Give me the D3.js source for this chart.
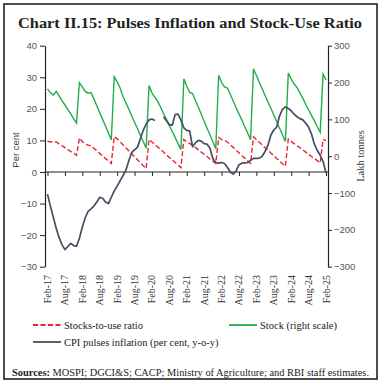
<!DOCTYPE html>
<html>
<head>
<meta charset="utf-8">
<script src="https://cdn.jsdelivr.net/npm/d3@7"></script>
<style>
    body { margin: 0; background: #fff; }
    svg { display: block; }
</style>
</head>
<body>
<script>
"use strict";
// month labels Feb-17 .. Feb-25
const months = d3.timeMonth.range(new Date(2017, 1, 1), new Date(2025, 2, 1)).map(d3.timeFormat("%b-%y"));
const tickLabels = ["Feb-17", "Aug-17", "Feb-18", "Aug-18", "Feb-19", "Aug-19", "Feb-20", "Aug-20",
    "Feb-21", "Aug-21", "Feb-22", "Aug-22", "Feb-23", "Aug-23", "Feb-24", "Aug-24", "Feb-25"];
const leftTicks = [-30, -20, -10, 0, 10, 20, 30, 40];
const rightTicks = [-300, -200, -100, 0, 100, 200, 300];

// CPI pulses inflation, per cent y-o-y (Apr/May-20 not available)
const cpiInflation = [
    -7.0, -10.8, -14.3, -17.8, -20.8, -23.0, -24.6, -23.6, -22.6, -23.3,
    -23.5, -21.0, -17.5, -14.5, -12.5, -11.7, -10.8, -9.5, -8.0, -8.3,
    -9.5, -10.0, -8.0, -6.0, -4.5, -2.8, -1.2, 0.5, 3.5, 6.1,
    7.0, 7.8, 10.5, 13.2, 15.2, 16.5, 16.8, 16.3, null, null,
    17.5, 16.2, 15.0, 14.8, 18.2, 18.3, 16.5, 14.0, 13.2, 13.0,
    8.0, 9.2, 10.0, 9.8, 9.0, 8.8, 7.5, 4.3, 3.0, 2.8,
    3.0, 2.7, 1.5, 0.0, -0.7, 0.3, 2.3, 2.8, 2.9, 3.0,
    3.7, 4.3, 4.3, 4.4, 5.0, 6.5, 8.5, 11.7, 13.3, 14.2,
    17.8, 19.8, 20.6, 20.1, 19.4, 18.3, 17.5, 16.9, 16.5, 15.5,
    14.2, 12.0, 8.8, 6.8, 5.3, 3.3, -0.3];
// stock, lakh tonnes (right scale)
const stock = [
    183, 172, 166, 176, 164, 151, 139, 127, 115, 102,
    90, 200, 188, 176, 171, 173, 155, 137, 118, 100,
    82, 63, 45, 216, 202, 186, 163, 145, 128, 110,
    92, 75, 57, 40, 22, 192, 172, 160, 149, 133,
    116, 100, 83, 67, 51, 34, 18, 210, 190, 173,
    170, 151, 133, 114, 95, 76, 58, 39, 20, 220,
    200, 188, 185, 168, 150, 132, 115, 98, 80, 63,
    45, 237, 219, 201, 183, 165, 147, 130, 112, 94,
    76, 58, 40, 226, 210, 196, 187, 172, 157, 141,
    126, 111, 96, 80, 65, 223, 207];
// stocks-to-use ratio, per cent
const stockUseRatio = [
    9.8, 9.5, 9.6, 9.5, 8.9, 8.3, 7.7, 7.1, 6.5, 5.9,
    5.3, 10.8, 9.6, 9.0, 8.5, 8.3, 7.5, 6.7, 5.9, 5.1,
    4.3, 3.5, 2.7, 11.2, 10.5, 9.6, 8.6, 7.7, 6.7, 5.8,
    4.9, 3.9, 3.0, 2.0, 1.1, 10.3, 9.5, 8.7, 7.9, 7.1,
    6.3, 5.4, 4.6, 3.8, 3.0, 2.2, 1.4, 10.3, 9.5, 9.0,
    8.5, 7.8, 7.0, 6.3, 5.6, 4.9, 4.1, 3.4, 2.7, 10.9,
    10.3, 10.0, 9.5, 8.6, 7.8, 6.9, 6.1, 5.2, 4.4, 3.5,
    2.7, 11.1, 10.3, 9.4, 8.6, 7.7, 6.9, 6.0, 5.2, 4.3,
    3.5, 2.6, 1.8, 10.4, 9.7, 9.0, 8.3, 7.7, 7.0, 6.3,
    5.6, 4.9, 4.3, 3.6, 2.9, 10.3, 9.9];

(function(){
    const measurements = {
        width: 382,
        height: 384,
        left: 45,
        right: 328,
        top: 45.7,
        bottom: 266.7
    }
    const serif = "'Liberation Serif', 'DejaVu Serif', serif"
    const sans = "'Liberation Sans', Arial, sans-serif"

    const svg = d3.select("body").append("svg")
        .attr("width", measurements.width)
        .attr("height", measurements.height)

    // outer frame
    svg.append("rect")
        .attr("x", 4).attr("y", 4)
        .attr("width", 373).attr("height", 375)
        .attr("fill", "none")
        .attr("stroke", "#222")
        .attr("stroke-width", 1.6)

    svg.append("text")
        .attr("x", 190).attr("y", 28)
        .attr("text-anchor", "middle")
        .attr("font-family", serif)
        .attr("font-weight", "bold")
        .attr("font-size", "14.5px")
        .attr("fill", "#222")
        .attr("textLength", 344)
        .attr("lengthAdjust", "spacingAndGlyphs")
        .text("Chart II.15: Pulses Inflation and Stock-Use Ratio")

    const x = d3.scalePoint().domain(months).range([47.5, 326])
    const yLeft = d3.scaleLinear().domain([-30, 40]).range([measurements.bottom, measurements.top])
    const yRight = d3.scaleLinear().domain([-300, 300]).range([measurements.bottom, measurements.top])

    drawAxes(x, yLeft, yRight)
    drawLines(x, yLeft, yRight)
    drawLegend()

    function drawAxes(x, yLeft, yRight) {
        const leftAxis = d3.axisLeft(yLeft).tickValues(leftTicks).tickSize(5).tickSizeOuter(0).tickPadding(3)
        const gl = svg.append("g")
            .attr("transform", `translate(${measurements.left},0)`)
            .call(leftAxis)
        styleAxis(gl)

        const rightAxis = d3.axisRight(yRight).tickValues(rightTicks).tickSize(4).tickSizeOuter(0).tickPadding(3)
        const gr = svg.append("g")
            .attr("transform", `translate(${measurements.right},0)`)
            .call(rightAxis)
        styleAxis(gr)
        gr.selectAll("text").attr("x", 6)

        // zero line with month ticks
        const y0 = yLeft(0)
        svg.append("line")
            .attr("x1", measurements.left).attr("x2", measurements.right)
            .attr("y1", y0).attr("y2", y0)
            .attr("stroke", "#222").attr("stroke-width", 1.2)
        const bottomAxis = d3.axisBottom(x).tickValues(tickLabels).tickSize(4).tickFormat("")
        const gb = svg.append("g")
            .attr("transform", `translate(0,${y0})`)
            .call(bottomAxis)
        gb.select(".domain").remove()
        gb.selectAll("line").attr("stroke", "#222")

        svg.append("g").selectAll("text")
            .data(tickLabels)
            .enter()
            .append("text")
                .attr("transform", d => `translate(${x(d)},275) rotate(-90)`)
                .attr("text-anchor", "end")
                .attr("dy", "0.35em")
                .attr("font-family", serif)
                .attr("font-size", "10px")
                .attr("fill", "#333")
                .text(d => d)

        svg.append("text")
            .attr("transform", "translate(19,150) rotate(-90)")
            .attr("text-anchor", "middle")
            .attr("font-family", sans)
            .attr("font-size", "9.5px")
            .attr("fill", "#444")
            .text("Per cent")

        svg.append("text")
            .attr("transform", "translate(364,156) rotate(-90)")
            .attr("text-anchor", "middle")
            .attr("font-family", serif)
            .attr("font-size", "10.5px")
            .attr("fill", "#333")
            .text("Lakh tonnes")
    }

    function styleAxis(g) {
        g.select(".domain").attr("stroke", "#222").attr("stroke-width", 1.2)
        g.selectAll(".tick line").attr("stroke", "#222")
        g.selectAll("text")
            .attr("font-family", sans)
            .attr("font-size", "9.5px")
            .attr("fill", "#555")
    }

    function drawLines(x, yLeft, yRight) {
        const lineLeft = d3.line()
            .defined(d => d[1] != null)
            .x(d => x(d[0]))
            .y(d => yLeft(d[1]))
        const lineRight = d3.line()
            .x(d => x(d[0]))
            .y(d => yRight(d[1]))

        svg.append("path")
            .datum(d3.zip(months, stock))
            .attr("d", lineRight)
            .attr("fill", "none")
            .attr("stroke", "#22ad48")
            .attr("stroke-width", 1.4)

        svg.append("path")
            .datum(d3.zip(months, stockUseRatio))
            .attr("d", lineLeft)
            .attr("fill", "none")
            .attr("stroke", "#ec2330")
            .attr("stroke-width", 1.4)
            .attr("stroke-dasharray", "5,2.5")

        svg.append("path")
            .datum(d3.zip(months, cpiInflation))
            .attr("d", lineLeft)
            .attr("fill", "none")
            .attr("stroke", "#474e62")
            .attr("stroke-width", 1.7)
            .attr("stroke-linejoin", "round")
    }

    function drawLegend() {
        const items = [
            { label: "Stocks-to-use ratio", color: "#ec2330", dash: "5,2.5", x: 33, y: 325 },
            { label: "Stock (right scale)", color: "#22ad48", dash: null, x: 229, y: 325 },
            { label: "CPI pulses inflation (per cent, y-o-y)", color: "#474e62", dash: null, x: 33, y: 342 }
        ]
        const g = svg.append("g")
        items.forEach(item => {
            g.append("line")
                .attr("x1", item.x).attr("x2", item.x + 28)
                .attr("y1", item.y).attr("y2", item.y)
                .attr("stroke", item.color)
                .attr("stroke-width", 1.8)
                .attr("stroke-dasharray", item.dash)
            g.append("text")
                .attr("x", item.x + 31).attr("y", item.y)
                .attr("dy", "0.35em")
                .attr("font-family", serif)
                .attr("font-size", "10.5px")
                .attr("fill", "#222")
                .text(item.label)
        })

        const src = svg.append("text")
            .attr("x", 12).attr("y", 376)
            .attr("font-family", serif)
            .attr("font-size", "9.5px")
            .attr("fill", "#222")
            .attr("textLength", 357)
            .attr("lengthAdjust", "spacingAndGlyphs")
        src.append("tspan").attr("font-weight", "bold").text("Sources:")
        src.append("tspan").text(" MOSPI; DGCI&S; CACP; Ministry of Agriculture; and RBI staff estimates.")
    }
})()
</script>
</body>
</html>
